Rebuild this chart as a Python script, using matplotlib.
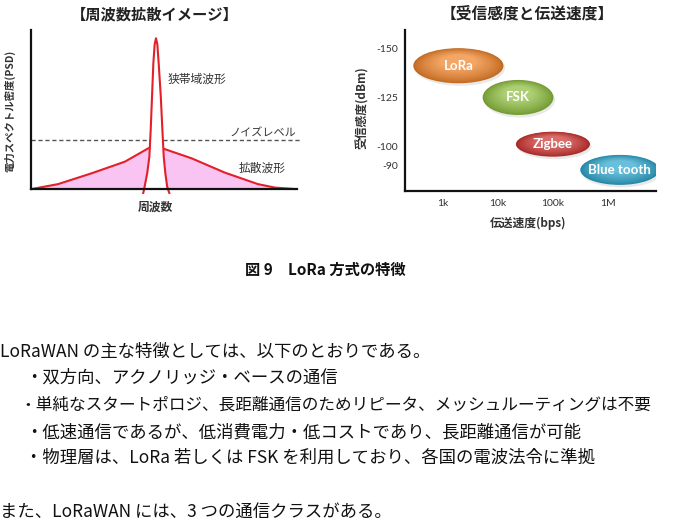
"""
LoRa 方式の特徴: 周波数拡散イメージと受信感度/伝送速度の図 + 説明文
"""
import numpy as np
import matplotlib.pyplot as plt
from matplotlib.patches import Ellipse
from matplotlib.colors import to_rgb

plt.rcParams['font.family'] = ['Noto Sans CJK JP', 'DejaVu Sans']

# --- данные:周波数拡散イメージ (условные единицы 0..100) ---
spread_x = [0.3, 10.2, 22.8, 35.3, 44.1, 47.0, 49.4, 60.4, 72.9, 85.3, 91.7, 99.2]
spread_y = [0.0, 3.1, 9.9, 17.2, 25.6, 27.0, 25.6, 19.3, 10.3, 3.1, 0.9, 0.0]
narrow_x = [42.2, 42.7, 43.7, 44.5, 45.0, 45.5, 46.0, 46.5, 47.0,
            47.5, 48.0, 48.8, 49.4, 49.9, 50.5, 51.2, 52.0]
narrow_y = [-2.5, 1.4, 10.1, 20.3, 37.1, 58.1, 79.1, 91.0, 94.8,
            91.0, 79.1, 58.1, 37.1, 20.3, 10.1, 1.4, -2.5]
noise_level = 30.8

# --- данные: 受信感度と伝送速度 ---
tech_names = ['LoRa', 'FSK', 'Zigbee', 'Blue tooth']
tech_rate_bps = [1950, 23400, 100000, 1620000]
tech_rate_span = [1.63, 1.28, 1.34, 1.43]      # ширина в декадах
tech_sens_dbm = [-141.3, -125.0, -101.0, -87.8]
tech_sens_span = [18.0, 18.0, 12.8, 15.4]
tech_colors = ['#ee8329', '#8dbd3e', '#cc3330', '#2ea5cb']
rate_ticks = [1e3, 1e4, 1e5, 1e6]
rate_labels = ['1k', '10k', '100k', '1M']
sens_ticks = [-150, -125, -100, -90]

# --- текст документа ---
caption = '図 9　LoRa 方式の特徴'
body_lines = [
    'LoRaWAN の主な特徴としては、以下のとおりである。',
    '・双方向、アクノリッジ・ベースの通信',
    '・単純なスタートポロジ、長距離通信のためリピータ、メッシュルーティングは不要',
    '・低速通信であるが、低消費電力・低コストであり、長距離通信が可能',
    '・物理層は、LoRa 若しくは FSK を利用しており、各国の電波法令に準拠',
    'また、LoRaWAN には、3 つの通信クラスがある。',
]
body_x = [0, 25, 19, 25, 25, 0]
body_y = [352, 378, 405, 432, 458, 512]
body_size = [12.5, 12.5, 12.0, 12.5, 12.5, 12.5]

W, H = 677, 522


def fx(px):
    return px / W


def fy(py):
    return 1 - py / H


def mix(c1, c2, t):
    a = np.array(to_rgb(c1))
    b = np.array(to_rgb(c2))
    return tuple(a + (b - a) * t)


fig = plt.figure(figsize=(W / 100, H / 100), dpi=100)

# ================= левый график =================
ax1 = fig.add_axes([fx(31), fy(193.8), (302.3 - 31) / W, (193.8 - 30) / H])
ax1.set_xlim(0, 102)
ax1.set_ylim(-3, 100)

ax1.fill_between(spread_x, 0, spread_y, color='#f9c4f2', lw=0, zorder=1)
ax1.plot(spread_x, spread_y, color='#e3202a', lw=1.5, zorder=2)
ax1.fill_between(narrow_x, 0, narrow_y, color='white', lw=0, zorder=3)
ax1.plot(narrow_x, narrow_y, color='#e3202a', lw=1.5, zorder=4)
ax1.plot([0, 101.5], [noise_level, noise_level], color='#555555',
         lw=1.0, dashes=(3, 2), zorder=2)

for side in ['top', 'right']:
    ax1.spines[side].set_visible(False)
ax1.spines['bottom'].set_position(('data', 0))
ax1.spines['bottom'].set_bounds(0, 100)
ax1.spines['left'].set_bounds(0, 100)
for side in ['bottom', 'left']:
    ax1.spines[side].set_linewidth(1.6)
    ax1.spines[side].set_color('#111111')
    ax1.spines[side].set_zorder(5)
ax1.set_xticks([])
ax1.set_yticks([])
ax1.patch.set_alpha(0)

ax1.text(62.4, 69.2, '狭帯域波形', fontsize=8.5, color='#333333',
         ha='center', va='center')
ax1.text(87.2, 34.6, 'ノイズレベル', fontsize=8, color='#333333',
         ha='center', va='center')
ax1.text(86.8, 13.2, '拡散波形', fontsize=8.5, color='#333333',
         ha='center', va='center')

fig.text(fx(155), fy(14), '【周波数拡散イメージ】', fontsize=11,
         fontweight='bold', ha='center', va='center', color='#222222')
fig.text(fx(155), fy(207), '周波数', fontsize=8.5, fontweight='bold',
         ha='center', va='center', color='#333333')
fig.text(fx(10), fy(111), '電力スペクトル密度(PSD)', fontsize=7.5,
         fontweight='bold', rotation=90, ha='center', va='center',
         color='#333333')

# ================= правый график =================
ax2 = fig.add_axes([fx(405), fy(191), 251 / W, 161 / H])
ax2.set_xlim(2.325, 6.864)
ax2.set_ylim(-76.96, -159.65)

for name, rate, rspan, sens, sspan, col in zip(
        tech_names, tech_rate_bps, tech_rate_span,
        tech_sens_dbm, tech_sens_span, tech_colors):
    cx = np.log10(rate)
    # лёгкая тень
    ax2.add_patch(Ellipse((cx + 0.03, sens + 1.3), rspan, sspan,
                          color='#888888', alpha=0.18, lw=0))
    dark = mix(col, 'black', 0.18)
    light = mix(col, 'white', 0.28)
    n = 14
    for i in range(n):
        t = i / (n - 1)
        s = 1 - 0.6 * t
        ax2.add_patch(Ellipse((cx, sens - (1 - s) * sspan * 0.2),
                              rspan * s, sspan * s,
                              color=mix(dark, light, t ** 0.8), lw=0))
    ax2.text(cx, sens, name, color='white', fontsize=9.5,
             fontweight='bold', family='Lato', ha='center', va='center')

for side in ['top', 'right']:
    ax2.spines[side].set_visible(False)
for side in ['bottom', 'left']:
    ax2.spines[side].set_linewidth(1.6)
    ax2.spines[side].set_color('#111111')
ax2.set_xticks(np.log10(rate_ticks), rate_labels, fontfamily='Lato')
ax2.set_yticks(sens_ticks, [str(v) for v in sens_ticks], fontfamily='Lato')
ax2.tick_params(axis='x', length=0, pad=6, labelsize=7.5, colors='#333333')
ax2.tick_params(axis='y', length=0, pad=5, labelsize=7.5, colors='#333333')
ax2.patch.set_alpha(0)

fig.text(fx(527), fy(14), '【受信感度と伝送速度】', fontsize=11.3,
         fontweight='bold', ha='center', va='center', color='#222222')
fig.text(fx(528), fy(223), '伝送速度(bps)', fontsize=8.5, fontweight='bold',
         ha='center', va='center', color='#333333')
fig.text(fx(362), fy(108), '受信感度(dBm)', fontsize=8.5, fontweight='bold',
         rotation=90, ha='center', va='center', color='#333333')

# ================= подпись и текст =================
fig.text(fx(325), fy(270), caption, fontsize=11, fontweight='bold',
         ha='center', va='center', color='#111111')
for line, x, y, size in zip(body_lines, body_x, body_y, body_size):
    fig.text(fx(x), fy(y), line, fontsize=size, ha='left', va='center',
             color='#111111')

fig.savefig('out.png', dpi=100)
plt.close(fig)
